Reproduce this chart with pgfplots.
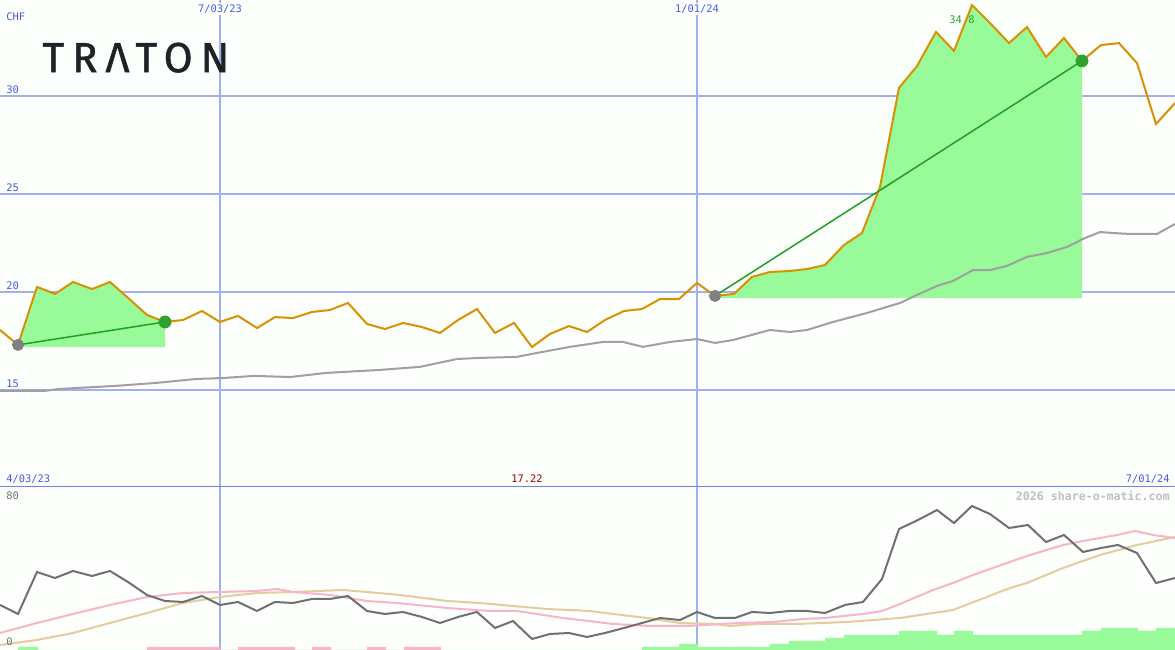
\documentclass[border=0pt]{standalone}
\usepackage{pgfplots}
\pgfplotsset{compat=1.18}
\usepackage{fontspec}
\setmainfont{DejaVu Sans}
\newfontfamily\lblfont{DejaVu Sans Mono}
\newfontfamily\logofont[LetterSpace=19, FakeBold=1.2]{Fira Sans}
\definecolor{bgc}{HTML}{FCFFFC}
\definecolor{gridc}{HTML}{A0B0F0}
\definecolor{sepc}{HTML}{7080F0}
\definecolor{pricec}{HTML}{D99100}
\definecolor{mac}{HTML}{A0A0A0}
\definecolor{fillc}{HTML}{98FA98}
\definecolor{trendc}{HTML}{20A020}
\definecolor{dotgrey}{HTML}{808080}
\definecolor{dotgreen}{HTML}{30A030}
\definecolor{oscc}{HTML}{707070}
\definecolor{pinkc}{HTML}{F8B4C8}
\definecolor{tanc}{HTML}{E4CC9C}
\definecolor{lblc}{HTML}{4858EC}
\definecolor{redc}{HTML}{A00000}
\definecolor{logoc}{HTML}{1E2328}

\tikzset{lbl/.style={font=\lblfont\fontsize{5.2}{6}\selectfont, text=lblc, inner sep=1pt}}

\begin{document}
\begin{tikzpicture}
\pgfplotsset{
  panel/.style={
    scale only axis, width=587.5pt,
    xmin=0, xmax=1175,
    axis line style={draw=none},
    major tick length=0pt,
    xticklabels={}, yticklabels={},
    xtick={220,697},
    xmajorgrids,
    grid style={gridc, line width=1pt},
    axis background/.style={fill=bgc},
  },
}
% ---------------- price panel ----------------
\begin{axis}[panel, name=top, height=243.5pt,
  ymin=10.05, ymax=34.90,
  ytick={15,20,25,30}, ymajorgrids]

% gain areas
\addplot[fill=fillc, draw=none] coordinates {
  (18,17.19) (18,17.30) (37,20.26) (55,19.90) (73,20.51) (92,20.15) (110,20.51)
  (128,19.70) (147,18.83) (165,18.47) (165,17.19)} --cycle;
\addplot[fill=fillc, draw=none] coordinates {
  (715,19.69) (715,19.80) (734,19.90) (752,20.77) (770,21.02) (789,21.07) (807,21.17)
  (825,21.38) (844,22.40) (862,23.01) (880,25.36) (899,30.41) (917,31.53) (936,33.27)
  (954,32.30) (972,34.64) (991,33.67) (1009,32.70) (1027,33.52) (1046,31.99)
  (1064,32.96) (1082,31.79) (1082,19.69)} --cycle;

% moving average
\addplot[mac, line width=1pt] coordinates {
  (0,14.95) (45,14.95) (58,15.05) (116,15.21) (156,15.36) (196,15.56) (223,15.61)
  (254,15.72) (290,15.66) (326,15.87) (379,16.02) (420,16.18) (457,16.58) (477,16.63)
  (517,16.69) (537,16.89) (570,17.20) (603,17.45) (623,17.45) (643,17.20) (670,17.45)
  (697,17.60) (715,17.40) (733,17.55) (770,18.06) (790,17.96) (807,18.06) (833,18.47)
  (867,18.93) (900,19.44) (917,19.85) (937,20.31) (953,20.56) (973,21.12) (990,21.12)
  (1007,21.33) (1027,21.79) (1047,21.99) (1067,22.30) (1083,22.71) (1100,23.06)
  (1113,23.01) (1130,22.96) (1157,22.96) (1175,23.47)};

\node[lbl, text=dotgreen] at (axis cs:962,33.88) {34.8};

% price
\addplot[pricec, line width=1pt] coordinates {
  (0,18.06) (18,17.30) (37,20.26) (55,19.90) (73,20.51) (92,20.15) (110,20.51)
  (128,19.70) (147,18.83) (165,18.47) (183,18.57) (202,19.03) (220,18.47) (238,18.78)
  (257,18.16) (275,18.72) (293,18.67) (312,18.98) (330,19.08) (348,19.44) (367,18.37)
  (385,18.11) (403,18.42) (422,18.21) (440,17.91) (458,18.57) (477,19.13) (495,17.91)
  (514,18.42) (532,17.19) (550,17.86) (569,18.26) (587,17.96) (605,18.57) (624,19.03)
  (642,19.13) (660,19.64) (679,19.64) (697,20.46) (715,19.80) (734,19.90) (752,20.77)
  (770,21.02) (789,21.07) (807,21.17) (825,21.38) (844,22.40) (862,23.01) (880,25.36)
  (899,30.41) (917,31.53) (936,33.27) (954,32.30) (972,34.64) (991,33.67) (1009,32.70)
  (1027,33.52) (1046,31.99) (1064,32.96) (1082,31.79) (1101,32.60) (1119,32.70)
  (1137,31.68) (1156,28.57) (1175,29.64)};

% trend lines and markers
\addplot[trendc, line width=0.75pt] coordinates {(18,17.30) (165,18.47)};
\addplot[trendc, line width=0.75pt] coordinates {(715,19.80) (1082,31.79)};
\addplot[only marks, mark=*, mark size=2.8pt, dotgrey] coordinates {(18,17.30) (715,19.80)};
\addplot[only marks, mark=*, mark size=3pt, dotgreen] coordinates {(165,18.47) (1082,31.79)};

% labels
\node[lbl, anchor=south west] at (axis cs:4,33.70) {CHF};
\node[lbl, anchor=south west] at (axis cs:4,30) {30};
\node[lbl, anchor=south west] at (axis cs:4,25) {25};
\node[lbl, anchor=south west] at (axis cs:4,20) {20};
\node[lbl, anchor=south west] at (axis cs:4,15) {15};
\node[lbl, fill=bgc] at (axis cs:220,34.44) {7/03/23};
\node[lbl, fill=bgc] at (axis cs:697,34.44) {1/01/24};
\node[lbl, anchor=west] at (axis cs:4,10.46) {4/03/23};
\node[lbl, anchor=east] at (axis cs:1172,10.46) {7/01/24};
\node[lbl, text=redc] at (axis cs:527,10.46) {17.22};
\node[anchor=base west, inner sep=0pt, text=logoc,
  font=\logofont\fontsize{21}{21}\selectfont] at (axis cs:42,31.22) {TRΛTON};
\draw[sepc, line width=1.3pt] (rel axis cs:0,0) -- (rel axis cs:1,0);
\end{axis}

% ---------------- oscillator panel ----------------
\begin{axis}[panel, name=bot, at={(top.south west)}, anchor=north west,
  height=81.5pt, ymin=0, ymax=83.6, ytick=\empty]

\addplot[ybar interval, fill=fillc, draw=none] coordinates {
  (18,1.54) (38,0) (642,1.54) (679,3.08) (698,1.54) (770,3.08) (789,4.62) (825,6.15)
  (844,7.69) (899,9.74) (937,7.69) (954,9.74) (973,7.69) (1082,9.74) (1101,11.28)
  (1138,9.74) (1156,11.28) (1175,0)};
\addplot[ybar interval, fill=pinkc, draw=none] coordinates {
  (147,1.54) (220,0) (238,1.54) (295,0) (312,1.54) (331,0) (367,1.54) (386,0)
  (404,1.54) (441,0)};

\addplot[tanc, line width=1pt] coordinates {
  (0,2.56) (37,5.13) (73,8.72) (110,13.85) (147,18.97) (183,24.10) (220,27.18)
  (257,29.23) (293,29.74) (343,30.77) (367,29.74) (400,28.21) (447,25.13) (480,24.10)
  (513,22.56) (547,21.03) (590,20.00) (613,18.46) (647,16.41) (680,13.85) (713,13.33)
  (730,12.31) (757,13.33) (797,13.33) (847,14.36) (900,16.41) (953,20.51) (1010,31.79)
  (1027,34.36) (1063,42.05) (1100,48.72) (1137,53.85) (1175,57.95)};
\addplot[pinkc, line width=1pt] coordinates {
  (0,8.72) (37,13.85) (73,18.46) (110,23.08) (147,27.18) (183,29.23) (220,29.74)
  (257,30.26) (277,31.28) (293,29.74) (330,28.21) (367,25.13) (397,24.10) (447,21.54)
  (490,20.00) (517,20.00) (563,16.41) (597,14.36) (613,13.33) (650,12.31) (687,12.31)
  (740,13.85) (773,14.36) (803,15.90) (825,16.41) (863,18.46) (882,20.00) (900,23.59)
  (933,30.77) (953,34.36) (973,38.46) (1007,44.62) (1027,48.21) (1063,53.85)
  (1083,55.90) (1117,58.97) (1135,61.03) (1153,58.97) (1175,57.44)};
\addplot[oscc, line width=1pt] coordinates {
  (0,23.08) (18,18.46) (37,40.00) (55,36.92) (73,40.51) (92,37.95) (110,40.51)
  (128,34.87) (147,28.21) (165,25.13) (183,24.62) (202,27.69) (220,23.08) (238,24.62)
  (257,20.00) (275,24.62) (293,24.10) (312,26.15) (330,26.15) (348,27.69) (367,20.00)
  (385,18.46) (403,19.49) (422,16.92) (440,13.85) (458,16.92) (477,19.49) (495,11.28)
  (513,14.87) (532,5.64) (550,8.21) (569,8.72) (587,6.67) (605,8.72) (624,11.28)
  (642,13.85) (660,16.41) (680,15.38) (697,19.49) (715,16.41) (735,16.41) (752,19.49)
  (770,18.97) (789,20.00) (807,20.00) (825,18.97) (845,23.08) (863,24.62) (882,36.41)
  (899,62.05) (918,66.67) (937,71.79) (954,65.13) (972,73.85) (990,69.74) (1009,62.56)
  (1028,64.10) (1046,55.38) (1064,58.97) (1083,50.26) (1101,52.31) (1118,53.85)
  (1137,49.74) (1156,34.36) (1175,36.92)};

\node[lbl, anchor=west, text=oscc] at (axis cs:4,79) {80};
\node[lbl, anchor=west, text=oscc] at (axis cs:4,4.1) {0};
\node[anchor=east, inner sep=1pt, text=black!25,
  font=\lblfont\bfseries\fontsize{5.8}{6}\selectfont] at (axis cs:1172,79) {2026 share-o-matic.com};
\end{axis}
\pgfresetboundingbox
\path (top.north west) rectangle (bot.south east);
\end{tikzpicture}
\end{document}
